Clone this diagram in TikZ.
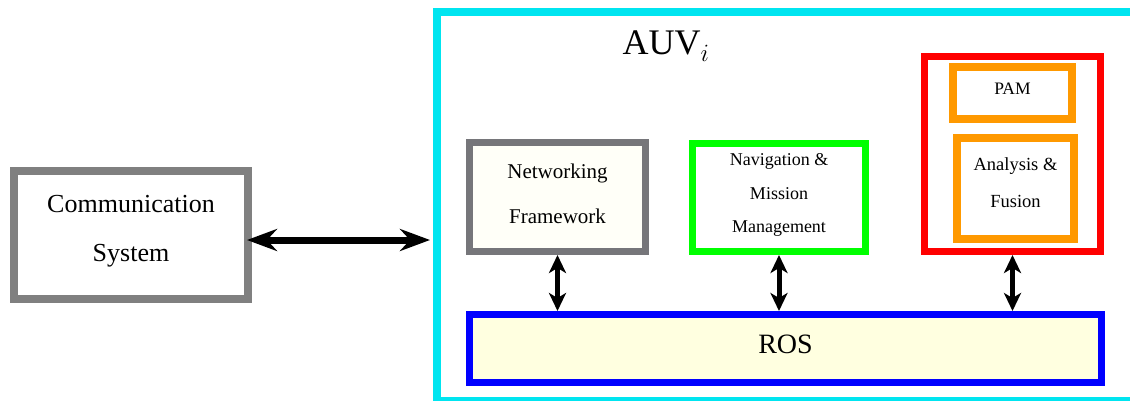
\documentclass[tikz,border=0pt]{standalone}
\usepackage{fontspec}
\setmainfont{Liberation Serif}
\usepackage{tikz}
\usetikzlibrary{positioning,arrows.meta}
\usepackage{xcolor}
\definecolor{auvcyan}{RGB}{0,229,240}
\definecolor{netgray}{RGB}{118,118,122}
\definecolor{commgray}{RGB}{128,128,128}
\definecolor{pamorange}{RGB}{255,153,0}
\definecolor{rosfill}{RGB}{255,255,224}
\definecolor{netfill}{RGB}{255,255,248}
\tikzset{
	unit box/.style={draw, inner sep=0pt, align=center},
	big link/.style={line width=7pt, {Stealth[length=30pt,width=22pt,inset=10pt]}-{Stealth[length=30pt,width=22pt,inset=10pt]}},
	ros link/.style={line width=5pt, {Stealth[length=18pt,width=17pt,inset=5pt]}-{Stealth[length=18pt,width=17pt,inset=5pt]}}
}

\begin{document}
\begin{tikzpicture}[x=1pt, y=-1pt]
	\useasboundingbox (0, 0) rectangle (1130, 400);

	\node[unit box, auvcyan, line width=8pt, minimum width=710pt, minimum height=389pt] (auv) at (792, 206.5) {};
	\node (auvname) at (666, 46) {\fontsize{36}{36}\selectfont AUV$_i$};

	\node[unit box, commgray, line width=8pt, minimum width=234pt, minimum height=128pt, text=black, text depth=12.7pt,
		font=\fontsize{26}{49}\selectfont] (comm) at (131, 235) {Communication\\System};

	\node[unit box, netgray, fill=netfill, line width=7pt, minimum width=176pt, minimum height=109pt, text=black, text depth=7.2pt,
		font=\fontsize{21}{45}\selectfont] (net) at (557.5, 197) {Networking\\Framework};
	\node[unit box, green, line width=7pt, minimum width=173pt, minimum height=108pt, text=black, text depth=8.9pt,
		font=\fontsize{18}{33.5}\selectfont] (nav) at (779, 197.5) {Navigation \&\\Mission\\Management};

	\node[unit box, red, line width=7pt, minimum width=176pt, minimum height=195pt] (pamunit) at (1012.5, 154) {};
	\node[unit box, pamorange, line width=8pt, minimum width=119pt, minimum height=52pt, text=black, text depth=9pt,
		font=\fontsize{17.5}{17.5}\selectfont] (pam) at (1012.5, 93) {PAM};
	\node[unit box, pamorange, line width=8pt, minimum width=117pt, minimum height=101pt, text=black, text depth=12pt,
		font=\fontsize{18.5}{37}\selectfont] (fusion) at (1015.5, 188.5) {Analysis \&\\Fusion};

	\node[unit box, blue, fill=rosfill, line width=7pt, minimum width=632pt, minimum height=68pt, text=black, text depth=9pt,
		font=\fontsize{28}{28}\selectfont] (ros) at (785.5, 348.5) {ROS};

	\draw[big link, shorten <=-5pt, shorten >=3pt] ([yshift=-5pt]comm.east) -- ([yshift=-5pt]comm.east -| auv.west);
	\foreach \u in {net, nav, pamunit} \draw[ros link] (\u.south) -- (\u.south |- ros.north);

\end{tikzpicture}
\end{document}
